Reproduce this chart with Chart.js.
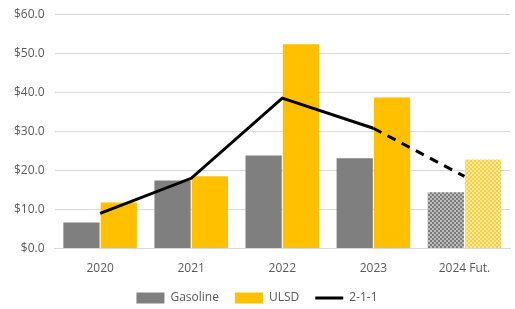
<!DOCTYPE html>
<html>
<head>
<meta charset="utf-8">
<script src="https://cdn.jsdelivr.net/npm/chart.js@4/dist/chart.umd.min.js"></script>
<style>
  html, body { margin: 0; padding: 0; background: #fff; }
  #wrap { width: 515px; height: 309px; }
</style>
</head>
<body>
<div id="wrap"><canvas id="grafico"></canvas></div>
<script>
const labels = ["2020", "2021", "2022", "2023", "2024 Fut."];
const gasolina = [6.7, 17.4, 23.8, 23.1, 14.4];
const ulsd = [11.8, 18.5, 52.3, 38.7, 22.8];
const crack211 = [9.0, 18.0, 38.5, 30.8, 18.5];
const yTicks = [0, 10, 20, 30, 40, 50, 60];

// patron de cuadros para el futuro 2024
function patron(base, punto) {
  const c = document.createElement("canvas");
  c.width = 4;
  c.height = 4;
  const p = c.getContext("2d");
  p.fillStyle = base;
  p.fillRect(0, 0, 4, 4);
  p.fillStyle = punto;
  p.fillRect(0, 0, 2, 2);
  p.fillRect(2, 2, 2, 2);
  return p.createPattern(c, "repeat");
}

const ctxCanvas = document.getElementById("grafico").getContext("2d");
const grisFut = patron("#7a7a7a", "#bdbdbd");
const amarilloFut = patron("#ffcf3a", "#ffeaa8");

const grises = gasolina.map((v, i) => (i === 4 ? grisFut : "#7f7f7f"));
const amarillos = ulsd.map((v, i) => (i === 4 ? amarilloFut : "#ffc000"));

let ctx = new Chart(ctxCanvas, {
  data: {
    labels: labels,
    datasets: [
      {
        type: "bar",
        label: "Gasoline",
        data: gasolina,
        backgroundColor: grises,
        pointStyle: "rect",
        barPercentage: 0.97,
        categoryPercentage: 0.82,
        order: 1,
      },
      {
        type: "bar",
        label: "ULSD",
        data: ulsd,
        backgroundColor: amarillos,
        pointStyle: "rect",
        barPercentage: 0.97,
        categoryPercentage: 0.82,
        order: 1,
      },
      {
        type: "line",
        label: "2-1-1",
        data: crack211,
        borderColor: "#000",
        backgroundColor: "#000",
        borderWidth: 3,
        pointRadius: 0,
        pointStyle: "line",
        tension: 0,
        order: 0,
        segment: {
          borderDash: (s) => (s.p0DataIndex === 3 ? [9, 7] : undefined),
        },
      },
    ],
  },
  options: {
    responsive: true,
    maintainAspectRatio: false,
    animation: false,
    layout: { padding: { top: 0, right: 5, left: 4, bottom: -5 } },
    scales: {
      x: {
        grid: { display: false },
        border: { color: "#d9d9d9" },
        afterFit: (a) => {
          a.height -= 5;
        },
        ticks: {
          color: "#595959",
          font: { family: "Open Sans", size: 12 },
          padding: 5,
        },
      },
      y: {
        min: 0,
        max: 60,
        afterBuildTicks: (axis) => {
          axis.ticks = yTicks.map((v) => ({ value: v }));
        },
        afterFit: (a) => {
          a.paddingTop -= 3;
        },
        grid: { color: "#d9d9d9", drawTicks: false },
        border: { display: false },
        ticks: {
          color: "#595959",
          font: { family: "Open Sans", size: 12 },
          padding: 10,
          callback: (v) => "$" + Number(v).toFixed(1),
        },
      },
    },
    plugins: {
      tooltip: { enabled: false },
      legend: {
        position: "bottom",
        labels: {
          usePointStyle: true,
          pointStyleWidth: 28,
          boxHeight: 11,
          color: "#595959",
          padding: 16,
          font: { family: "Open Sans", size: 12 },
          sort: (a, b) => a.datasetIndex - b.datasetIndex,
        },
      },
    },
  },
});
</script>
</body>
</html>
